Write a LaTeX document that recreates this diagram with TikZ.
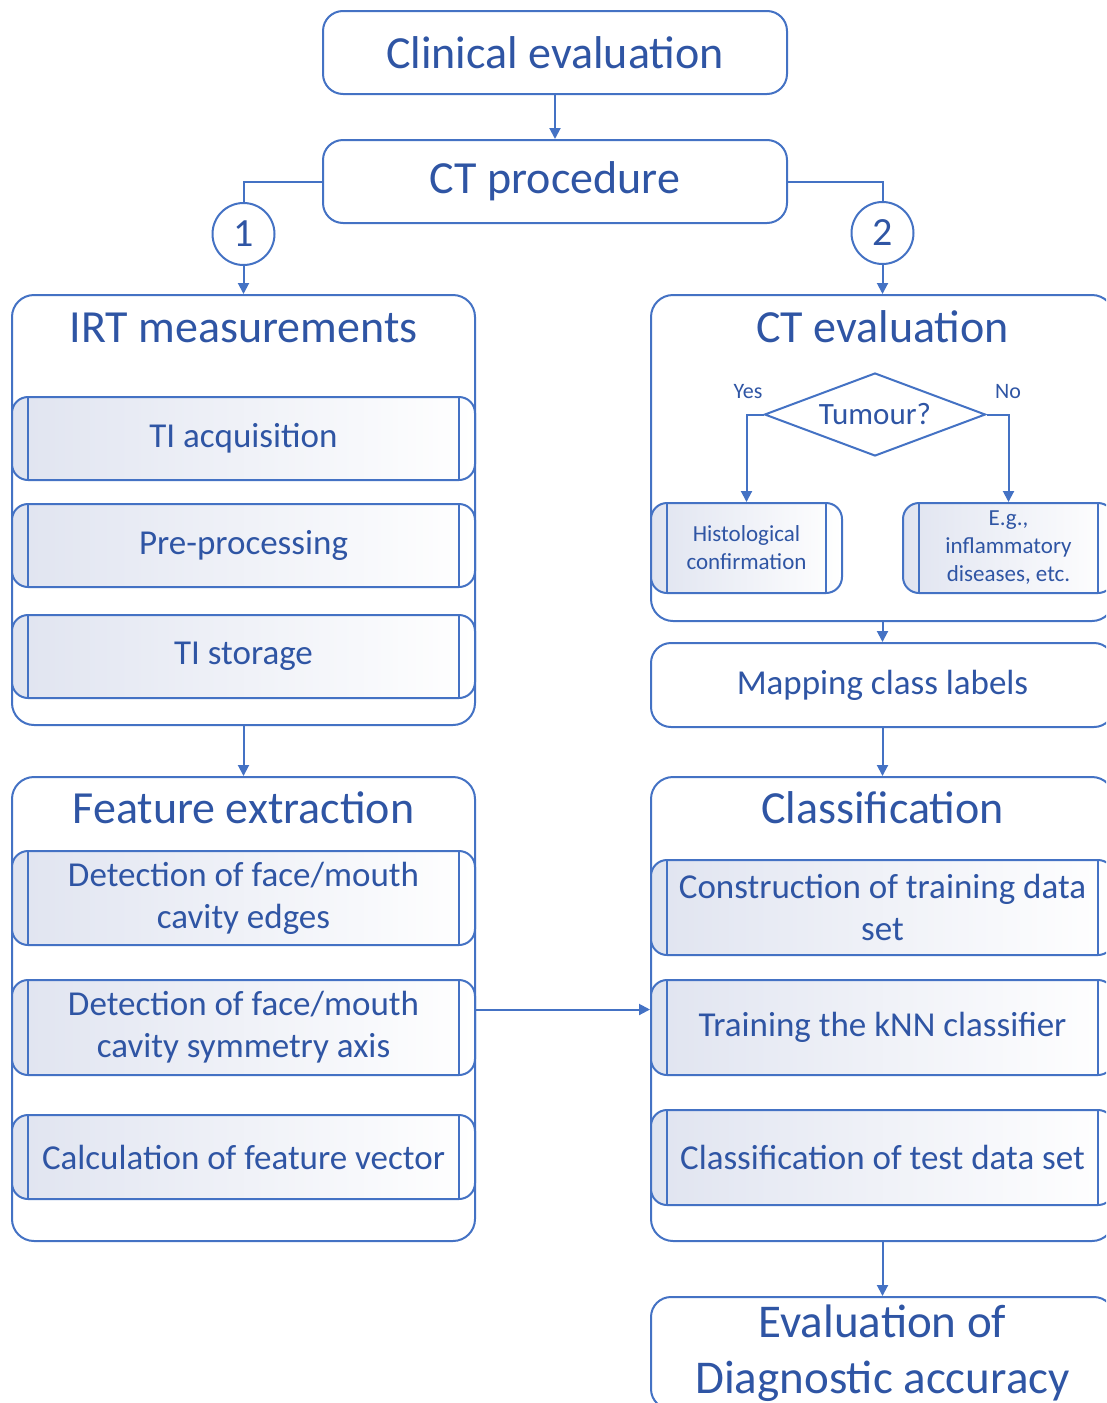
\documentclass[tikz,border=0pt]{standalone}
\usepackage{fontspec}
\setmainfont{Carlito}
\usetikzlibrary{arrows.meta,positioning,shapes.geometric}
\definecolor{lBlue}{HTML}{4472C4}
\definecolor{tBlue}{HTML}{2F55A4}
\definecolor{shBlue}{HTML}{E0E4F0}
\newcommand{\fsz}[2]{\fontsize{#1}{#2}\selectfont}
\tikzset{box/.style={draw=lBlue, line width=2pt, rounded corners=20pt,
  fill=white, text=tBlue, align=center, inner sep=0pt}}
\tikzset{grp/.style={box, minimum width=463pt, rounded corners=22pt}}
\tikzset{proc/.style={box, rounded corners=16pt, left color=shBlue,
  right color=white, font=\fsz{35}{42},
  path picture={\draw[lBlue, line width=1.5pt]
    ([xshift=16pt]path picture bounding box.north west) --
    ([xshift=16pt]path picture bounding box.south west)
    ([xshift=-16pt]path picture bounding box.north east) --
    ([xshift=-16pt]path picture bounding box.south east);}}}
\tikzset{ttl/.style={text=tBlue, font=\fsz{46}{55}}}
\tikzset{num/.style={circle, draw=lBlue, line width=2pt, fill=white,
  text=tBlue, minimum size=62pt, inner sep=0pt, font=\fsz{40}{48}}}
\tikzset{ln/.style={draw=lBlue, line width=2pt}}
\tikzset{ar/.style={ln, -{Triangle[length=11pt,width=11pt]}}}
\begin{document}
\begin{tikzpicture}[x=1pt,y=-1pt]
  \clip (0,0) rectangle (1106,1403);
  %% top
  \node[box, minimum width=464pt, minimum height=83pt, font=\fsz{46}{55}]
    (clin) at (555,52.5) {Clinical evaluation};
  \node[box, minimum width=464pt, minimum height=83pt, font=\fsz{46}{55}]
    (ct) at (555,181.5) {CT procedure};
  \node[num] (c1) at (243.5,234) {1};
  \node[num] (c2) at (882.5,233) {2};
  %% left column
  \node[grp, minimum height=430pt] (irt) at (243.5,510) {};
  \node[ttl] (irtT) at (243.5,328) {IRT measurements};
  \node[proc, minimum width=463pt, minimum height=83pt] (acq) at (243.5,438.5) {TI acquisition};
  \node[proc, minimum width=463pt, minimum height=83pt] (pre) at (243.5,545.5) {Pre-processing};
  \node[proc, minimum width=463pt, minimum height=83pt] (sto) at (243.5,656.5) {TI storage};
  \node[grp, minimum height=464pt] (fe) at (243.5,1009) {};
  \node[ttl] (feT) at (243.5,808) {Feature extraction};
  \node[proc, minimum width=463pt, minimum height=94pt] (edg) at (243.5,898)
    {Detection of face/mouth\\cavity edges};
  \node[proc, minimum width=463pt, minimum height=95pt] (sym) at (243.5,1027.5)
    {Detection of face/mouth\\cavity symmetry axis};
  \node[proc, minimum width=463pt, minimum height=84pt] (vec) at (243.5,1157)
    {Calculation of feature vector};
  %% right column
  \node[grp, minimum height=326pt] (ctev) at (882.5,458) {};
  \node[ttl] (ctevT) at (882.5,327) {CT evaluation};
  \node[diamond, aspect=2.66, draw=lBlue, line width=2pt, text=tBlue, inner sep=0pt,
    minimum width=221pt, minimum height=83pt, font=\fsz{31}{37}]
    (tum) at (875,414.5) {Tumour?};
  \node[text=tBlue, font=\fsz{22}{26}] (yes) at (748,392) {Yes};
  \node[text=tBlue, font=\fsz{22}{26}] (no) at (1008,392) {No};
  \node[proc, minimum width=191pt, minimum height=90pt, font=\fsz{23}{28}]
    (hist) at (746.5,548) {Histological\\confirmation};
  \node[proc, minimum width=211pt, minimum height=90pt, font=\fsz{23}{28}]
    (eg) at (1008.5,548) {E.g.,\\inflammatory\\diseases, etc.};
  \node[box, minimum width=463pt, minimum height=84pt, font=\fsz{35}{42}]
    (map) at (882.5,685) {Mapping class labels};
  \node[grp, minimum height=464pt] (cls) at (882.5,1009) {};
  \node[ttl] (clsT) at (882.5,808) {Classification};
  \node[proc, minimum width=463pt, minimum height=95pt] (con) at (882.5,907.5)
    {Construction of training data\\set};
  \node[proc, minimum width=463pt, minimum height=95pt] (trn) at (882.5,1027.5)
    {Training the kNN classifier};
  \node[proc, minimum width=463pt, minimum height=95pt] (tst) at (882.5,1157.5)
    {Classification of test data set};
  \node[box, minimum width=463pt, minimum height=112pt, font=\fsz{47}{56}]
    (evl) at (882.5,1353) {Evaluation of\\Diagnostic accuracy};
  %% connectors
  \draw[ar] (clin) -- (ct);
  \draw[ln] (ct.west) -| (c1);
  \draw[ln] (ct.east) -| (c2);
  \draw[ar] (c1) -- (irt);
  \draw[ar] (c2) -- (ctev);
  \draw[ar] (irt) -- (fe);
  \draw[ar] (tum.west) -| (hist.north);
  \draw[ar] (tum.east) -| (eg.north);
  \draw[ar] (ctev) -- (map);
  \draw[ar] (map) -- (cls);
  \draw[ar] ([yshift=18pt]sym.east) -- ([yshift=18pt]trn.west);
  \draw[ar] (cls) -- (evl);
\end{tikzpicture}
\end{document}
